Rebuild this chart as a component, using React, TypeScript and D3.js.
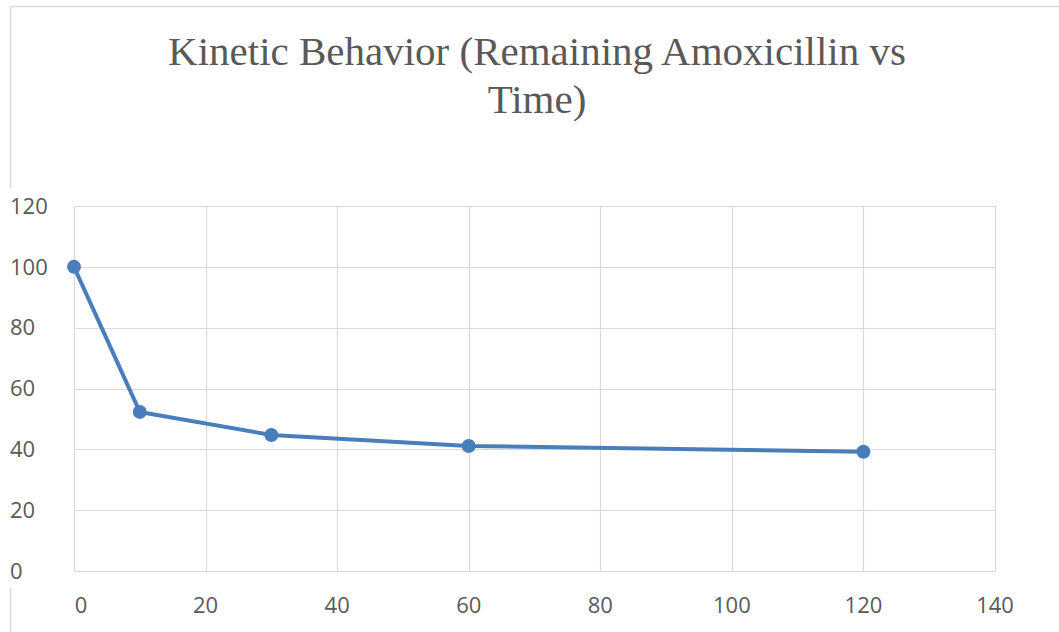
import React from "react";
import * as d3 from "d3";

const times = [0, 10, 30, 60, 120];
const remaining = [100, 52.3, 44.7, 41.1, 39.2];
const xTicks = [0, 20, 40, 60, 80, 100, 120, 140];
const yTicks = [0, 20, 40, 60, 80, 100, 120];
const titleLines = ["Kinetic Behavior (Remaining Amoxicillin vs", "Time)"];

export default function App() {
  const W = 1059, H = 632;
  const x = d3.scaleLinear().domain([0, 140]).range([74, 995]);
  const y = d3.scaleLinear().domain([0, 120]).range([571, 206]);
  const pts = times.map((t, i) => [x(t), y(remaining[i])] as [number, number]);
  const line = d3.line()(pts) || "";
  const grid = "#d9d9d9";
  const txt = "#595959";
  return (
    <svg width={W} height={H} style={{ position: "absolute", left: 0, top: 0, background: "#fff" }}>
      <rect x={0} y={0} width={W} height={H} fill="#fff" />
      {/* frame fragments */}
      <line x1={10} y1={6.5} x2={W} y2={6.5} stroke={grid} strokeWidth={1.5} />
      <line x1={10.5} y1={6} x2={10.5} y2={188} stroke={grid} strokeWidth={1.5} />
      <line x1={10.5} y1={588} x2={10.5} y2={H} stroke={grid} strokeWidth={1.5} />
      {titleLines.map((t, i) => (
        <text key={i} x={537} y={65 + i * 48} textAnchor="middle" fontFamily="'Liberation Serif', 'Times New Roman', serif" fontSize={41} fill={txt}>
          {t}
        </text>
      ))}
      {yTicks.map((v) => (
        <line key={"gy" + v} x1={74} x2={995} y1={Math.round(y(v)) + 0.5} y2={Math.round(y(v)) + 0.5} stroke={grid} strokeWidth={1.2} />
      ))}
      {xTicks.map((v) => (
        <line key={"gx" + v} y1={206} y2={571} x1={Math.round(x(v)) + 0.5} x2={Math.round(x(v)) + 0.5} stroke={grid} strokeWidth={1.2} />
      ))}
      {yTicks.map((v) => (
        <text key={"ty" + v} x={10} y={y(v)} dy="0.35em" fontFamily="'Open Sans', 'Liberation Sans', sans-serif" fontSize={22} fill={txt}>
          {v}
        </text>
      ))}
      {xTicks.map((v) => (
        <text key={"tx" + v} x={x(v) + (v === 0 ? 7 : 0)} y={605} dy="0.35em" textAnchor="middle" fontFamily="'Open Sans', 'Liberation Sans', sans-serif" fontSize={22} fill={txt}>
          {v}
        </text>
      ))}
      <path d={line} fill="none" stroke="#4a7ebb" strokeWidth={4} strokeLinejoin="round" />
      {pts.map((p, i) => (
        <circle key={i} cx={p[0]} cy={p[1]} r={7} fill="#4a7ebb" />
      ))}
    </svg>
  );
}
